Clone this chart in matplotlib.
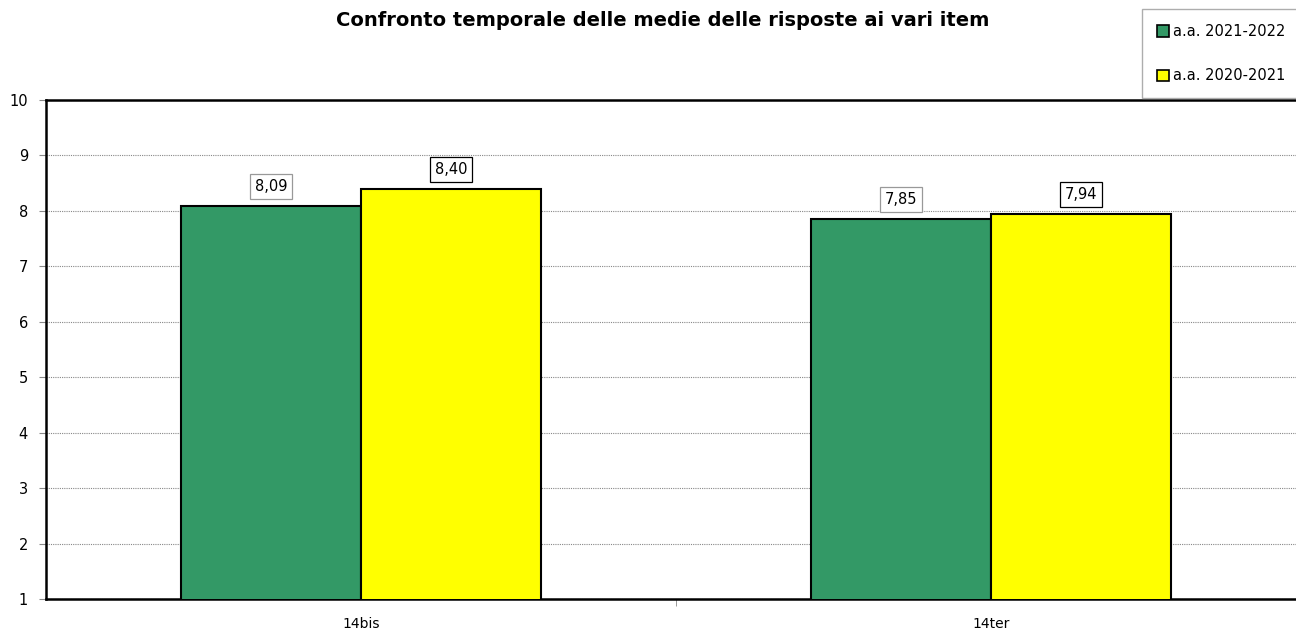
import numpy as np
import matplotlib.pyplot as plt
from matplotlib.patches import Patch

categories = ['14bis', '14ter']
serie_2122 = [8.09, 7.85]
serie_2021 = [8.40, 7.94]
series_names = ['a.a. 2021-2022', 'a.a. 2020-2021']
colors = ['#339966', '#ffff00']

plt.rcParams['font.family'] = ['DejaVu Sans']

fig = plt.figure(figsize=(12.96, 6.33), dpi=100)
ax = fig.add_axes([46 / 1296, 1 - 599 / 633, 1260 / 1296, 499 / 633])

x = np.arange(len(categories))
w = 180 / 630
bars1 = ax.bar(x - w / 2, serie_2122, w, color=colors[0], edgecolor='black', linewidth=1.5, zorder=3)
bars2 = ax.bar(x + w / 2, serie_2021, w, color=colors[1], edgecolor='black', linewidth=1.5, zorder=3)

ax.set_ylim(1, 10)
ax.set_xlim(-0.5, 1.5)
ax.set_yticks(range(1, 11))
ax.set_xticks([0.5], minor=True)
ax.set_xticks(x)
ax.set_xticklabels(categories, fontsize=10)
ax.tick_params(axis='x', which='major', length=0, pad=13)
ax.tick_params(axis='x', which='minor', length=5, color='#888888')
ax.tick_params(axis='y', length=5, color='#888888', labelsize=10.5, pad=8)
ax.yaxis.grid(True, linestyle=(0, (1, 1)), color='#888888', linewidth=0.8, zorder=0)

for s in ['left', 'bottom', 'top']:
    ax.spines[s].set_linewidth(1.8)
ax.spines['right'].set_visible(False)

# etichette dei valori
for bars, vals, ec in [(bars1, serie_2122, '#999999'), (bars2, serie_2021, 'black')]:
    for b, v in zip(bars, vals):
        ax.annotate(f'{v:.2f}'.replace('.', ','),
                    (b.get_x() + b.get_width() / 2, v), xytext=(0, 14),
                    textcoords='offset points', ha='center', va='center', fontsize=10.5,
                    bbox=dict(boxstyle='square,pad=0.35', fc='white', ec=ec, lw=0.9),
                    zorder=5)

fig.text(0.511, 0.968, 'Confronto temporale delle medie delle risposte ai vari item',
         ha='center', va='center', fontsize=14, fontweight='bold')

handles = [Patch(facecolor=c, edgecolor='black', linewidth=1.2) for c in colors]
leg = fig.legend(handles, series_names, loc='upper right', bbox_to_anchor=(1.003, 0.985),
                 fontsize=10.5, frameon=True, fancybox=False, edgecolor='#999999',
                 handlelength=0.8, handleheight=0.8, handletextpad=0.3,
                 labelspacing=2.0, borderpad=1.0, borderaxespad=0)
leg.get_frame().set_linewidth(1.0)

fig.savefig('out.png', dpi=100)
